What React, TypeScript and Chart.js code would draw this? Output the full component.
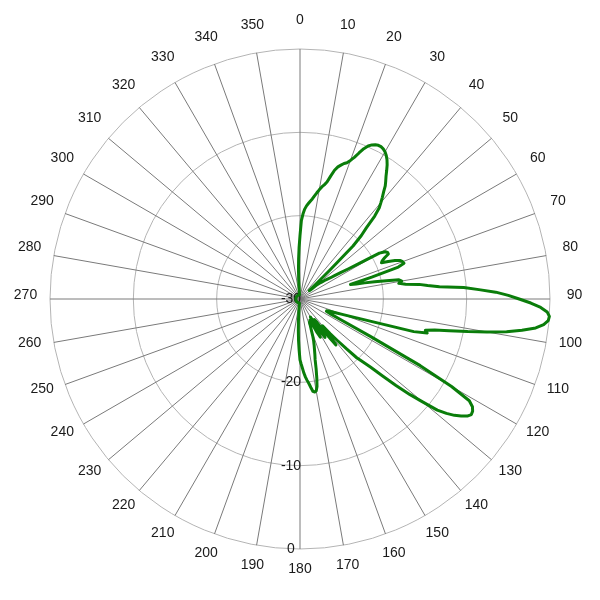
import React, { useEffect, useRef } from "react";
import { Chart, registerables } from "chart.js";

Chart.register(...registerables);

// Categories: azimuth in degrees (1 degree resolution)
const degrees: number[] = Array.from({ length: 360 }, (_, i) => i);

// Compass labels shown around the plot
const compassLabels: string[] = [
  "0", "10", "20", "30", "40", "50", "60", "70", "80", "90", "100", "110",
  "120", "130", "140", "150", "160", "170", "180", "190", "200", "210", "220", "230",
  "240", "250", "260", "270", "280", "290", "300", "310", "320", "330", "340", "350",
];

// Radial scale (dB)
const radialMin = -30;
const radialMax = 0;
const radialStep = 10;

// Pattern values (dB), 0..359 degrees
const gain0to89: number[] = [
  -22.4, -20.6, -19.8, -19.2, -18.8, -18.5, -18.2, -17.9, -17.5, -17.1,
  -16.7, -16.3, -16.0, -15.6, -14.8, -14.0, -13.5, -13.2, -12.9, -12.7,
  -12.3, -11.8, -11.1, -10.4, -9.9, -9.6, -9.4, -9.3, -9.3, -9.4,
  -9.6, -9.9, -10.3, -10.8, -11.4, -12.0, -12.5, -13.0, -13.7, -14.3,
  -14.9, -15.5, -16.6, -18.3, -19.4, -21.0, -25.0, -27.5, -28.5, -28.3,
  -27.5, -27.0, -26.7, -26.3, -26.0, -25.6, -25.0, -24.2, -23.2, -21.7,
  -19.0, -18.3, -18.1, -18.1, -18.7, -19.1, -19.3, -18.5, -17.7, -17.1,
  -16.9, -16.8, -17.6, -21.0, -23.7, -23.0, -22.0, -20.8, -19.4, -17.9,
  -17.6, -18.0, -17.2, -15.6, -14.6, -13.2, -10.3, -8.5, -6.5, -5.0,
];
const gain90to179: number[] = [
  -3.7, -2.3, -1.1, -0.3, 0, -0.1, -0.6, -1.5, -3.1, -4.9,
  -7.2, -9.5, -11.7, -13.4, -14.5, -14.2, -15.8, -19.9, -22.2, -23.6,
  -24.6, -25.3, -25.9, -26.3, -26.5, -26.5, -26.0, -24.5, -20.5, -13.5,
  -9.0, -6.3, -5.6, -5.3, -5.2, -5.5, -6.1, -6.8, -7.7, -8.8,
  -10.8, -12.5, -14.5, -16.5, -18.2, -19.3, -20.2, -21.8, -23.3, -24.5,
  -25.8, -24.5, -23.0, -24.5, -26.5, -27.0, -25.5, -24.5, -25.5, -27.0,
  -27.5, -26.0, -24.8, -25.5, -27.0, -27.2, -26.5, -26.8, -27.0, -26.5,
  -26.0, -25.3, -24.7, -24.2, -23.7, -23.1, -22.5, -21.4, -20.3, -19.3,
  -18.8, -18.7, -18.8, -19.3, -19.8, -20.2, -20.6, -21.1, -21.7, -22.2,
];
const gain180to269: number[] = [
  -22.7, -23.9, -25.0, -26.2, -27.3, -28.3, -29.0, -29.5, -29.5, -29.5,
  -29.5, -29.5, -29.5, -29.5, -29.5, -29.5, -29.5, -29.5, -29.5, -29.5,
  -29.5, -29.5, -29.5, -29.5, -29.5, -29.5, -29.5, -29.5, -29.5, -29.5,
  -29.5, -29.5, -29.5, -29.5, -29.5, -29.5, -29.5, -29.5, -29.5, -29.5,
  -29.5, -29.5, -29.5, -29.5, -29.5, -29.5, -29.5, -29.5, -29.5, -29.5,
  -29.5, -29.5, -29.5, -29.5, -29.5, -29.5, -29.5, -29.5, -29.5, -29.5,
  -29.5, -29.5, -29.5, -29.5, -29.5, -29.5, -29.5, -29.5, -29.5, -29.5,
  -29.5, -29.5, -29.5, -29.5, -29.5, -29.5, -29.5, -29.5, -29.5, -29.5,
  -29.5, -29.5, -29.5, -29.5, -29.5, -29.5, -29.5, -29.5, -29.5, -29.5,
];
const gain270to359: number[] = [
  -29.5, -29.5, -29.5, -29.5, -29.5, -29.5, -29.5, -29.5, -29.5, -29.5,
  -29.5, -29.5, -29.5, -29.5, -29.5, -29.5, -29.5, -29.5, -29.5, -29.5,
  -29.5, -29.5, -29.5, -29.5, -29.5, -29.5, -29.5, -29.5, -29.5, -29.5,
  -29.5, -29.5, -29.5, -29.5, -29.5, -29.5, -29.5, -29.5, -29.5, -29.5,
  -29.5, -29.5, -29.5, -29.5, -29.5, -29.5, -29.5, -29.5, -29.5, -29.5,
  -29.5, -29.5, -29.5, -29.5, -29.5, -29.5, -29.5, -29.5, -29.5, -29.5,
  -29.5, -29.5, -29.5, -29.5, -29.5, -29.5, -29.5, -29.5, -29.5, -29.5,
  -29.5, -29.5, -29.5, -29.5, -29.5, -29.5, -29.5, -29.5, -29.5, -29.5,
  -29.5, -29.5, -29.5, -29.5, -29.5, -29.0, -27.8, -26.5, -25.2, -23.8,
];

const FONT = '14px "Liberation Sans", Arial, Helvetica, sans-serif';

const polarTextPlugin = {
  id: "polarText",
  beforeDatasetsDraw(chart: any) {
    const scale = chart.scales.r;
    const ctx = chart.ctx as CanvasRenderingContext2D;
    ctx.save();
    ctx.font = FONT;
    ctx.fillStyle = "#1a1a1a";
    ctx.textAlign = "center";
    ctx.textBaseline = "middle";
    compassLabels.forEach((lab) => {
      const idx = degrees.indexOf(Number(lab));
      const p = scale.getPointPosition(idx, scale.drawingArea + 24.5);
      ctx.fillText(lab, p.x, p.y - 4);
    });
    scale.ticks.forEach((t: any) => {
      const d = scale.getDistanceFromCenterForValue(t.value);
      ctx.fillText(String(t.value), scale.xCenter - 9, scale.yCenter + d);
    });
    ctx.restore();
  },
};

export default function App() {
  const ref = useRef<HTMLCanvasElement | null>(null);

  useEffect(() => {
    if (!ref.current) return;
    const values = [...gain0to89, ...gain90to179, ...gain180to269, ...gain270to359];
    const chart = new Chart(ref.current, {
      type: "radar",
      data: {
        labels: degrees.map((d) => String(d)),
        datasets: [
          {
            data: values,
            borderColor: "#0a7d0a",
            borderWidth: 3,
            borderJoinStyle: "round",
            pointRadius: 0,
            pointHoverRadius: 0,
            fill: false,
            tension: 0,
          },
        ],
      },
      options: {
        responsive: false,
        animation: false,
        events: [],
        layout: { padding: { top: 49, bottom: 51, left: 50, right: 50 } },
        plugins: { legend: { display: false }, tooltip: { enabled: false } },
        scales: {
          r: {
            min: radialMin,
            max: radialMax,
            startAngle: 0,
            ticks: { display: false, stepSize: radialStep },
            pointLabels: { display: false },
            grid: { circular: true, color: "#b4b4b4", lineWidth: 1 },
            angleLines: {
              display: true,
              color: "#7a7a7a",
              lineWidth: (c: any) => (c.index % 10 === 0 ? 1 : 0),
            },
          },
        },
      },
      plugins: [polarTextPlugin],
    });
    return () => chart.destroy();
  }, []);

  return (
    <div style={{ position: "absolute", left: 0, top: 0, width: 600, height: 600, background: "#fff" }}>
      <canvas ref={ref} width={600} height={600} />
    </div>
  );
}
